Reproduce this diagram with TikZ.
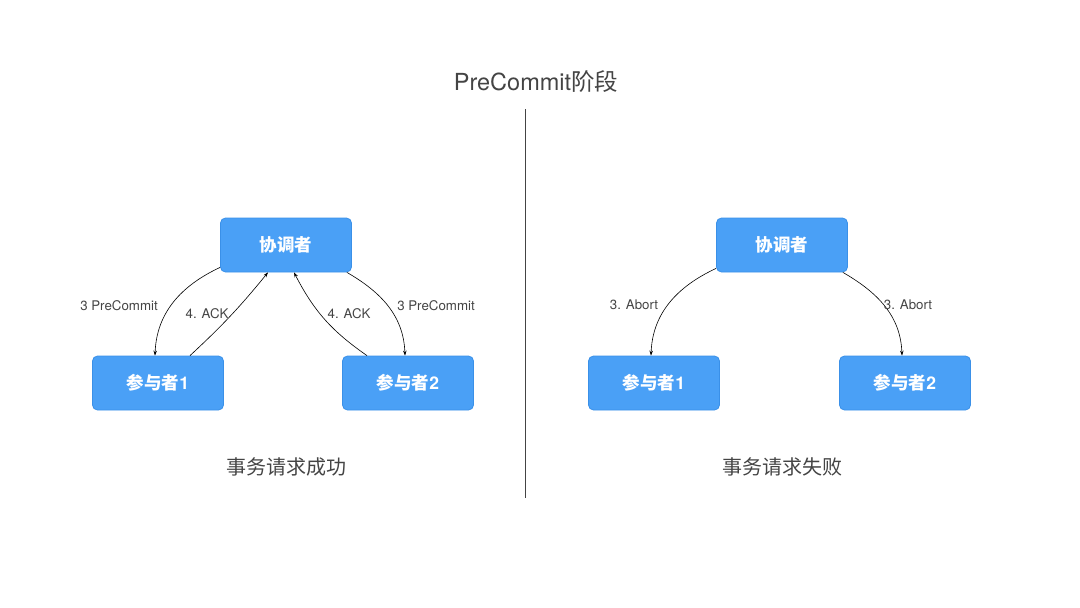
\documentclass[tikz,border=0pt]{standalone}
\usepackage{fontspec}
\setmainfont{TeX Gyre Heros}
\newfontfamily\cjk{Noto Sans CJK SC}
\usetikzlibrary{shapes,arrows,arrows.meta,positioning,calc}
\definecolor{boxblue}{RGB}{74,160,246}
\definecolor{boxline}{RGB}{58,144,232}
\definecolor{txtgray}{RGB}{68,68,68}

\begin{document}
\begin{tikzpicture}[x=1pt, y=1pt,
  role/.style={draw=boxline, fill=boxblue, rounded corners=5pt, line width=0.8pt,
    minimum width=131pt, minimum height=54pt, text=white,
    font=\fontsize{17.5}{20}\selectfont\bfseries},
  msg/.style={text=txtgray, font=\fontsize{13.3}{15}\selectfont},
  caption/.style={text=txtgray, font=\fontsize{20}{24}\selectfont\cjk},
  flow/.style={-{Stealth[length=5pt,width=3.5pt]}, black, line width=0.6pt}]
\useasboundingbox (0,0) rectangle (1080,-608);

% 标题
\node[text=txtgray, font=\fontsize{23.5}{27}\selectfont] (title) at (536,-82) {PreCommit{\cjk 阶段}};
\coordinate (divtop) at (525,-109);
\coordinate (divbot) at (525,-498);
\draw[txtgray, line width=0.9pt] (divtop) -- (divbot);

% 事务请求成功
\node[role] (coordL) at (286,-245) {{\cjk 协调者}};
\node[role] (partL1) at (158,-383) {{\cjk 参与者}1};
\node[role] (partL2) at (408,-383) {{\cjk 参与者}2};
\node[caption] (okcap) at (286,-467) {事务请求成功};

\draw[flow] ([yshift=5pt]coordL.south west) to[out=205, in=88] ([xshift=-3pt]partL1.north);
\draw[flow] ([xshift=32pt]partL1.north) to[bend right=4] ([xshift=-18pt]coordL.south);
\draw[flow] ([xshift=-41pt]partL2.north) to[bend left=14] ([xshift=8pt]coordL.south);
\draw[flow] ([xshift=-5pt]coordL.south east) to[out=-30, in=92] ([xshift=-3pt]partL2.north);

\node[msg] (preL1) at (119,-306) {3 PreCommit};
\node[msg] (ackL1) at (207,-314) {4. ACK};
\node[msg] (ackL2) at (349,-314) {4. ACK};
\node[msg] (preL2) at (436,-306) {3 PreCommit};

% 事务请求失败
\node[role] (coordR) at (782,-245) {{\cjk 协调者}};
\node[role] (partR1) at (654,-383) {{\cjk 参与者}1};
\node[role] (partR2) at (905,-383) {{\cjk 参与者}2};
\node[caption] (failcap) at (782,-467) {事务请求失败};

\draw[flow] ([yshift=4pt]coordR.south west) to[out=205, in=88] ([xshift=-3pt]partR1.north);
\draw[flow] ([xshift=-5pt]coordR.south east) to[out=-30, in=92] ([xshift=-3pt]partR2.north);

\node[msg] (abortR1) at (634,-305) {3. Abort};
\node[msg] (abortR2) at (908,-305) {3. Abort};
\end{tikzpicture}
\end{document}
